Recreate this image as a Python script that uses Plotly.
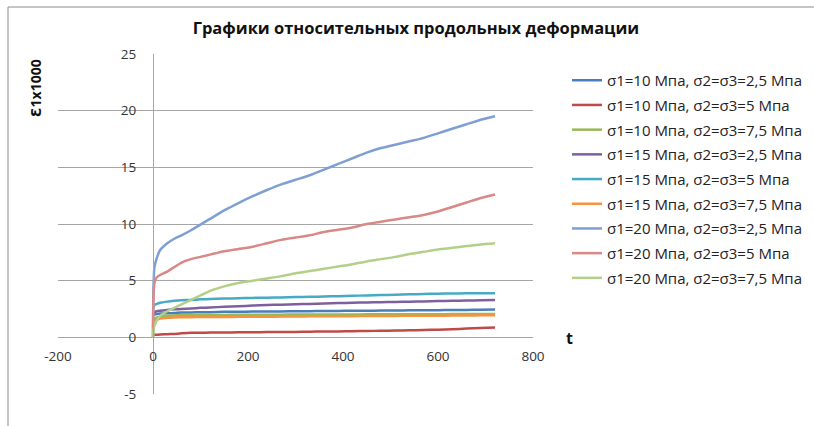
import plotly.graph_objects as go

# ---------------- data ----------------
names = [
    "σ1=10 Мпа, σ2=σ3=2,5 Мпа",
    "σ1=10 Мпа, σ2=σ3=5 Мпа",
    "σ1=10 Мпа, σ2=σ3=7,5 Мпа",
    "σ1=15 Мпа, σ2=σ3=2,5 Мпа",
    "σ1=15 Мпа, σ2=σ3=5 Мпа",
    "σ1=15 Мпа, σ2=σ3=7,5 Мпа",
    "σ1=20 Мпа, σ2=σ3=2,5 Мпа",
    "σ1=20 Мпа, σ2=σ3=5 Мпа",
    "σ1=20 Мпа, σ2=σ3=7,5 Мпа",
]
colors = ["#4A7EBB", "#BE4B48", "#98B954", "#7D60A0", "#46AAC5",
          "#F69240", "#7F9FD3", "#D98886", "#B3CF88"]

t = [0, 1, 3, 8, 15, 30, 45, 60, 80, 100, 120, 150, 180, 210, 240, 270,
     300, 330, 360, 390, 420, 450, 480, 510, 540, 570, 600, 630, 660, 690, 720]

s10_25 = [1.9, 1.95, 2.0, 2.05, 2.1, 2.12, 2.15, 2.2, 2.2, 2.22, 2.22, 2.25, 2.25, 2.27, 2.28, 2.29,
          2.3, 2.31, 2.32, 2.33, 2.34, 2.35, 2.36, 2.37, 2.38, 2.39, 2.4, 2.41, 2.42, 2.43, 2.45]
s10_5 = [0.2, 0.2, 0.22, 0.23, 0.25, 0.27, 0.3, 0.35, 0.4, 0.4, 0.42, 0.43, 0.44, 0.45, 0.46, 0.47,
         0.48, 0.5, 0.51, 0.52, 0.54, 0.56, 0.58, 0.6, 0.62, 0.65, 0.68, 0.72, 0.77, 0.82, 0.87]
s10_75 = [1.0, 1.3, 1.6, 1.75, 1.8, 1.9, 1.93, 1.95, 1.96, 1.97, 1.98, 1.98, 1.99, 2.0, 2.0, 2.0,
          2.01, 2.01, 2.02, 2.02, 2.02, 2.03, 2.03, 2.03, 2.04, 2.04, 2.04, 2.05, 2.05, 2.05, 2.05]
s15_25 = [2.0, 2.1, 2.2, 2.3, 2.35, 2.42, 2.47, 2.5, 2.55, 2.6, 2.63, 2.7, 2.75, 2.8, 2.85, 2.88,
          2.92, 2.95, 2.98, 3.02, 3.05, 3.08, 3.1, 3.12, 3.15, 3.17, 3.2, 3.22, 3.25, 3.27, 3.3]
s15_5 = [2.5, 2.7, 2.85, 2.95, 3.05, 3.15, 3.22, 3.27, 3.3, 3.35, 3.38, 3.42, 3.45, 3.48, 3.5, 3.52,
         3.55, 3.58, 3.6, 3.63, 3.66, 3.7, 3.73, 3.76, 3.8, 3.82, 3.85, 3.87, 3.88, 3.89, 3.9]
s15_75 = [0.9, 1.2, 1.4, 1.55, 1.65, 1.72, 1.75, 1.77, 1.78, 1.79, 1.8, 1.8, 1.81, 1.82, 1.82, 1.83,
          1.84, 1.85, 1.85, 1.86, 1.87, 1.88, 1.88, 1.89, 1.9, 1.9, 1.91, 1.92, 1.93, 1.94, 1.95]
s20_25 = [0.0, 4.5, 6.2, 7.0, 7.7, 8.3, 8.7, 9.0, 9.45, 9.95, 10.45, 11.2, 11.85, 12.45, 13.0, 13.5,
          13.9, 14.3, 14.8, 15.3, 15.8, 16.3, 16.7, 17.0, 17.3, 17.6, 18.0, 18.4, 18.8, 19.2, 19.5]
s20_5 = [0.0, 3.5, 4.8, 5.3, 5.5, 5.8, 6.2, 6.6, 6.9, 7.1, 7.3, 7.6, 7.8, 8.0, 8.3, 8.6,
         8.8, 9.0, 9.3, 9.5, 9.7, 10.0, 10.2, 10.4, 10.6, 10.8, 11.1, 11.5, 11.9, 12.3, 12.6]
s20_75 = [0.0, 0.6, 1.0, 1.5, 1.9, 2.3, 2.6, 2.9, 3.3, 3.7, 4.1, 4.5, 4.8, 5.0, 5.2, 5.4,
          5.65, 5.85, 6.05, 6.25, 6.45, 6.7, 6.9, 7.1, 7.35, 7.55, 7.75, 7.9, 8.05, 8.2, 8.3]

series = [s10_25, s10_5, s10_75, s15_25, s15_5, s15_75, s20_25, s20_5, s20_75]

x_ticks = [-200, 0, 200, 400, 600, 800]
x_ticktext = ["-200", "0", "200", "400", "600", "800"]
y_ticks = [-5, 0, 5, 10, 15, 20, 25]
y_ticktext = ["-5", "0", "5", "10", "15", "20", "25"]

title_text = "Графики относительных продольных деформации"
y_label = "<span style='font-family:DejaVu Sans'>Ɛ</span>1x1000"
x_label = "t"

FONT = "Open Sans"
GRID = "#A6A6A6"

fig = go.Figure()
for i, (nm, col, ys) in enumerate(zip(names, colors, series)):
    fig.add_trace(go.Scatter(x=t, y=ys, mode="lines", name=nm,
                             line=dict(color=col, width=2.5, shape="spline", smoothing=0.6),
                             legendgroup=f"g{i}"))

x_rng = [-200, 800]
y_rng = [-5, 25]
x_pos = (0 - x_rng[0]) / (x_rng[1] - x_rng[0])
y_pos = (0 - y_rng[0]) / (y_rng[1] - y_rng[0])

fig.update_layout(
    width=814, height=426,
    margin=dict(l=58, r=281, t=54, b=32, autoexpand=False),
    paper_bgcolor="white", plot_bgcolor="white",
    font=dict(family=FONT, size=12, color="#222222"),
    title=dict(text=title_text, x=0.511, xanchor="center", y=0.934, yanchor="middle",
               font=dict(family=FONT, size=16.5, color="#111111", weight="bold")),
    xaxis=dict(range=x_rng, tickvals=x_ticks, ticktext=x_ticktext, showgrid=False, zeroline=False,
               showline=True, linecolor=GRID, linewidth=1,
               anchor="free", position=y_pos, ticks="", ticklabelstandoff=6,
               tickfont=dict(size=13.5, color="#333333")),
    yaxis=dict(range=y_rng, tickvals=y_ticks, ticktext=y_ticktext, showgrid=True, gridcolor=GRID,
               gridwidth=1, zeroline=False, showline=True, linecolor=GRID, linewidth=1,
               anchor="free", position=x_pos, ticks="", ticklabelstandoff=14,
               tickfont=dict(size=13.5, color="#333333")),
    legend=dict(xref="container", yref="container", x=567 / 814, xanchor="left",
                y=1 - 64 / 426, yanchor="top", maxheight=400,
                font=dict(size=15, color="#222222"), traceorder="grouped",
                tracegroupgap=2.2, bgcolor="rgba(0,0,0,0)", itemwidth=30),
    showlegend=True,
)

fig.add_annotation(text=y_label, xref="paper", yref="paper", x=-0.048, y=0.9,
                   xanchor="center", yanchor="middle",
                   textangle=-90, showarrow=False,
                   font=dict(family=FONT, size=14, color="#111111", weight="bold"))
fig.add_annotation(text=x_label, xref="paper", yref="paper", x=1.076, y=0.165,
                   xanchor="center", yanchor="middle", showarrow=False,
                   font=dict(family=FONT, size=16, color="#111111", weight="bold"))

# outer chart frame
fig.add_shape(type="rect", xref="paper", yref="paper",
              x0=(8 - 58) / 475, x1=(820 - 58) / 475,
              y0=(394 - 430) / 340, y1=(394 - 7) / 340,
              line=dict(color="#8C8C8C", width=1), layer="below")

fig.write_html("out.html", config={"displayModeBar": False},
               post_script="document.body.style.margin='0';document.body.style.overflow='hidden';")
